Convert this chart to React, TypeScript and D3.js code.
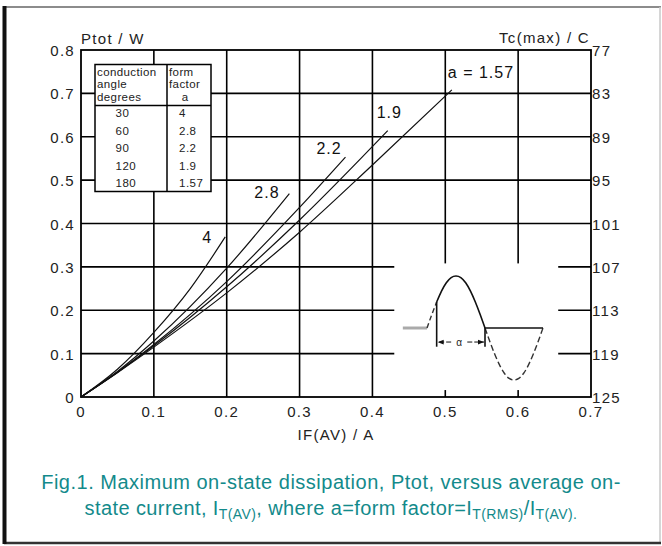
import * as d3 from "d3";
import React, { useEffect, useRef } from "react";

// axis ticks
const currentTicks = [0, 0.1, 0.2, 0.3, 0.4, 0.5, 0.6, 0.7];
const powerTicks = [0, 0.1, 0.2, 0.3, 0.4, 0.5, 0.6, 0.7, 0.8];
const caseTempTicks = [77, 83, 89, 95, 101, 107, 113, 119, 125];

// dissipation curves (IF(AV) in A, Ptot in W)
const formFactors = ["1.57", "1.9", "2.2", "2.8", "4"];
const current157 = [0, 0.05, 0.1, 0.2, 0.3, 0.4, 0.509];
const power157 = [0, 0.056, 0.115, 0.24, 0.38, 0.535, 0.708];
const current19 = [0, 0.05, 0.1, 0.2, 0.3, 0.421];
const power19 = [0, 0.057, 0.118, 0.254, 0.408, 0.614];
const current22 = [0, 0.05, 0.1, 0.2, 0.3, 0.363];
const power22 = [0, 0.057, 0.121, 0.266, 0.437, 0.553];
const current28 = [0, 0.05, 0.1, 0.2, 0.286];
const power28 = [0, 0.059, 0.129, 0.297, 0.469];
const current4 = [0, 0.05, 0.1, 0.15, 0.198];
const power4 = [0, 0.064, 0.149, 0.25, 0.369];

// legend table
const tableAngles = ["30", "60", "90", "120", "180"];
const tableFactors = ["4", "2.8", "2.2", "1.9", "1.57"];

// inset waveform (degrees, normalised amplitude)
const waveAngles = [0, 15, 30, 45, 60, 75, 90, 105, 120, 135, 150, 165, 180, 195, 210, 225, 240, 255, 270, 285, 300, 315, 330, 345, 360];
const waveValues = [0, 0.26, 0.5, 0.71, 0.87, 0.97, 1, 0.97, 0.87, 0.71, 0.5, 0.26, 0, -0.26, -0.5, -0.71, -0.87, -0.97, -1, -0.97, -0.87, -0.71, -0.5, -0.26, 0];
const conductionStart = 30;

const FONT = "'Liberation Sans', Arial, Helvetica, sans-serif";

function DissipationChart() {
  const width = 662;
  const height = 546;
  const marginTop = 50;
  const marginRight = 71;
  const marginBottom = 149;
  const marginLeft = 81;
  const ref = useRef<HTMLDivElement>(null);

  useEffect(() => {
    d3.select(ref.current).select("svg").remove();

    const svg = d3
      .select(ref.current)
      .append("svg")
      .attr("width", width)
      .attr("height", height)
      .attr("viewBox", [0, 0, width, height])
      .style("position", "absolute")
      .style("left", 0)
      .style("top", 0)
      .style("font-family", FONT);

    svg.append("rect").attr("width", width).attr("height", height).attr("fill", "#fff");

    // page frame
    svg.append("line").attr("x1", 4).attr("x2", 661).attr("y1", 7).attr("y2", 7).attr("stroke", "#8c8c8c").attr("stroke-width", 2);
    svg.append("line").attr("x1", 660).attr("x2", 660).attr("y1", 7).attr("y2", 543).attr("stroke", "#c8c8c8").attr("stroke-width", 1.5);
    svg.append("line").attr("x1", 4).attr("x2", 661).attr("y1", 543).attr("y2", 543).attr("stroke", "#333").attr("stroke-width", 2.5);
    svg.append("line").attr("x1", 4.5).attr("x2", 4.5).attr("y1", 6).attr("y2", 544).attr("stroke", "#111").attr("stroke-width", 4);

    const x = d3.scaleLinear().domain([0, 0.7]).range([marginLeft, width - marginRight]);
    const y = d3.scaleLinear().domain([0, 0.8]).range([height - marginBottom, marginTop]);
    const yTemp = d3.scaleLinear().domain([77, 125]).range([marginTop, height - marginBottom]);

    // grid
    const grid = svg.append("g").attr("stroke", "#000").attr("stroke-width", 1.6);
    grid
      .selectAll("line.h")
      .data(powerTicks.slice(1, -1))
      .join("line")
      .attr("x1", x(0))
      .attr("x2", x(0.7))
      .attr("y1", (d) => y(d))
      .attr("y2", (d) => y(d));
    grid
      .selectAll("line.v")
      .data(currentTicks.slice(1, -1))
      .join("line")
      .attr("class", "v")
      .attr("y1", y(0))
      .attr("y2", y(0.8))
      .attr("x1", (d) => x(d))
      .attr("x2", (d) => x(d));

    // white patch under the inset
    svg.append("rect").attr("x", x(0.43)).attr("y", y(0.308)).attr("width", x(0.655) - x(0.43)).attr("height", y(0.016) - y(0.308)).attr("fill", "#fff");

    svg
      .append("rect")
      .attr("x", marginLeft)
      .attr("y", marginTop)
      .attr("width", x(0.7) - x(0))
      .attr("height", y(0) - y(0.8))
      .attr("fill", "none")
      .attr("stroke", "#000")
      .attr("stroke-width", 1.8);

    // curves
    const series = [
      { a: formFactors[0], xs: current157, ps: power157, dx: -4, dy: -12 },
      { a: formFactors[1], xs: current19, ps: power19, dx: -11, dy: -13 },
      { a: formFactors[2], xs: current22, ps: power22, dx: -29, dy: -3 },
      { a: formFactors[3], xs: current28, ps: power28, dx: -35, dy: 4 },
      { a: formFactors[4], xs: current4, ps: power4, dx: -23, dy: 6 },
    ];
    const line = d3
      .line<[number, number]>()
      .x((d) => x(d[0]))
      .y((d) => y(d[1]))
      .curve(d3.curveMonotoneX);

    series.forEach((s) => {
      const pts = s.xs.map((v, i) => [v, s.ps[i]] as [number, number]);
      svg.append("path").attr("d", line(pts)).attr("fill", "none").attr("stroke", "#111").attr("stroke-width", 1.2);
      const last = pts[pts.length - 1];
      svg
        .append("text")
        .attr("x", x(last[0]) + s.dx)
        .attr("y", y(last[1]) + s.dy)
        .attr("font-size", 16)
        .attr("letter-spacing", 1)
        .attr("fill", "#111")
        .text(s.a === "1.57" ? "a = 1.57" : s.a);
    });

    // left axis labels
    svg
      .append("g")
      .selectAll("text")
      .data(powerTicks)
      .join("text")
      .attr("x", marginLeft - 6)
      .attr("y", (d) => y(d) + 6)
      .attr("text-anchor", "end")
      .attr("font-size", 15)
      .attr("letter-spacing", 1.3)
      .attr("fill", "#222")
      .text((d) => (d === 0 ? "0" : d3.format(".1f")(d)));

    // right axis labels
    svg
      .append("g")
      .selectAll("text")
      .data(caseTempTicks)
      .join("text")
      .attr("x", width - marginRight + 1)
      .attr("y", (d) => yTemp(d) + 6)
      .attr("font-size", 15)
      .attr("letter-spacing", 1.3)
      .attr("fill", "#222")
      .text((d) => d);

    // bottom axis labels
    svg
      .append("g")
      .selectAll("text")
      .data(currentTicks)
      .join("text")
      .attr("x", (d) => x(d))
      .attr("y", y(0) + 20)
      .attr("text-anchor", "middle")
      .attr("font-size", 15)
      .attr("letter-spacing", 1.3)
      .attr("fill", "#222")
      .text((d) => (d === 0 ? "0" : d3.format(".1f")(d)));

    svg.append("text").attr("x", marginLeft).attr("y", 44).attr("font-size", 15).attr("letter-spacing", 1.3).attr("fill", "#222").text("Ptot / W");
    svg.append("text").attr("x", width - marginRight - 1).attr("y", 43).attr("text-anchor", "end").attr("font-size", 15).attr("letter-spacing", 1.3).attr("fill", "#222").text("Tc(max) / C");
    svg.append("text").attr("x", (x(0) + x(0.7)) / 2).attr("y", 440).attr("text-anchor", "middle").attr("font-size", 15).attr("letter-spacing", 1.3).attr("fill", "#222").text("IF(AV) / A");

    // legend table
    const tx = 95;
    const ty = 64.5;
    const tw = 116;
    const th = 127;
    const colX = 167;
    const tbl = svg.append("g").attr("fill", "#222").attr("font-size", 11.5);
    tbl.append("rect").attr("x", tx).attr("y", ty).attr("width", tw).attr("height", th).attr("fill", "#fff").attr("stroke", "#000").attr("stroke-width", 1.5);
    tbl.append("line").attr("x1", tx).attr("x2", tx + tw).attr("y1", 105.5).attr("y2", 105.5).attr("stroke", "#000").attr("stroke-width", 1.5);
    tbl.append("line").attr("x1", colX).attr("x2", colX).attr("y1", ty).attr("y2", ty + th).attr("stroke", "#000").attr("stroke-width", 1.5);
    ["conduction", "angle", "degrees"].forEach((t, i) => {
      tbl.append("text").attr("x", tx + 2).attr("y", 75.5 + i * 12.6).attr("letter-spacing", 0.4).text(t);
    });
    ["form", "factor"].forEach((t, i) => {
      tbl.append("text").attr("x", colX + 2).attr("y", 75.5 + i * 12.6).attr("letter-spacing", 0.4).text(t);
    });
    tbl.append("text").attr("x", colX + 18).attr("y", 101).attr("text-anchor", "middle").text("a");
    tableAngles.forEach((t, i) => {
      tbl.append("text").attr("x", 115.5).attr("y", 117 + i * 17.5).attr("letter-spacing", 0.5).text(t);
      tbl.append("text").attr("x", 179).attr("y", 117 + i * 17.5).attr("letter-spacing", 0.5).text(tableFactors[i]);
    });

    // inset waveform
    const ix = d3.scaleLinear().domain([0, 360]).range([427, 543]);
    const iy = d3.scaleLinear().domain([-1, 1]).range([380, 276]);
    const wave = d3
      .line<[number, number]>()
      .x((d) => ix(d[0]))
      .y((d) => iy(d[1]))
      .curve(d3.curveNatural);
    const wavePts = waveAngles.map((a, i) => [a, waveValues[i]] as [number, number]);
    const seg = (lo: number, hi: number) => wavePts.filter((d) => d[0] >= lo && d[0] <= hi);
    const inset = svg.append("g").attr("fill", "none");

    inset.append("line").attr("x1", ix(-75)).attr("x2", ix(0)).attr("y1", iy(0)).attr("y2", iy(0)).attr("stroke", "#aaa").attr("stroke-width", 3);
    inset.append("path").attr("d", wave(seg(0, conductionStart))).attr("stroke", "#333").attr("stroke-width", 1.4).attr("stroke-dasharray", "5,3");
    inset.append("path").attr("d", wave(seg(conductionStart, 180))).attr("stroke", "#111").attr("stroke-width", 1.6);
    inset.append("path").attr("d", wave(seg(180, 360))).attr("stroke", "#333").attr("stroke-width", 1.4).attr("stroke-dasharray", "6,3");
    inset.append("line").attr("x1", ix(180)).attr("x2", ix(360)).attr("y1", iy(0)).attr("y2", iy(0)).attr("stroke", "#111").attr("stroke-width", 1.6);
    [conductionStart, 180].forEach((a) => {
      inset
        .append("line")
        .attr("x1", ix(a))
        .attr("x2", ix(a))
        .attr("y1", iy(a === 180 ? 0 : 0.5))
        .attr("y2", iy(-0.36))
        .attr("stroke", "#111")
        .attr("stroke-width", 1.6);
    });

    const defs = svg.append("defs");
    defs
      .append("marker")
      .attr("id", "arr")
      .attr("viewBox", "0 0 10 10")
      .attr("refX", 10)
      .attr("refY", 5)
      .attr("markerWidth", 6)
      .attr("markerHeight", 6)
      .attr("orient", "auto")
      .append("path")
      .attr("d", "M0,1L10,5L0,9z")
      .attr("fill", "#111");

    const dimY = iy(-0.27);
    inset.append("line").attr("x1", ix(75)).attr("x2", ix(conductionStart) + 1).attr("y1", dimY).attr("y2", dimY).attr("stroke", "#111").attr("stroke-width", 1).attr("stroke-dasharray", "5,2").attr("marker-end", "url(#arr)");
    inset.append("line").attr("x1", ix(125)).attr("x2", ix(180) - 1).attr("y1", dimY).attr("y2", dimY).attr("stroke", "#111").attr("stroke-width", 1).attr("stroke-dasharray", "5,2").attr("marker-end", "url(#arr)");
    svg.append("text").attr("x", ix(100)).attr("y", dimY + 3.5).attr("text-anchor", "middle").attr("font-size", 10).attr("fill", "#222").text("α");

    // caption
    const teal = "#138a8b";
    svg.append("text").attr("x", 331).attr("y", 489).attr("text-anchor", "middle").attr("font-size", 20).attr("letter-spacing", 0.5).attr("fill", teal).text("Fig.1. Maximum on-state dissipation, Ptot, versus average on-");
    const cap2 = svg.append("text").attr("x", 331).attr("y", 515).attr("text-anchor", "middle").attr("font-size", 20).attr("letter-spacing", 0.4).attr("fill", teal);
    cap2.append("tspan").text("state current, I");
    cap2.append("tspan").attr("dy", 4).attr("font-size", 14).text("T(AV)");
    cap2.append("tspan").attr("dy", -4).text(", where a=form factor=I");
    cap2.append("tspan").attr("dy", 4).attr("font-size", 14).text("T(RMS)");
    cap2.append("tspan").attr("dy", -4).text("/I");
    cap2.append("tspan").attr("dy", 4).attr("font-size", 14).text("T(AV).");
  }, []);

  return <div ref={ref}></div>;
}

export default function App() {
  return <DissipationChart />;
}
